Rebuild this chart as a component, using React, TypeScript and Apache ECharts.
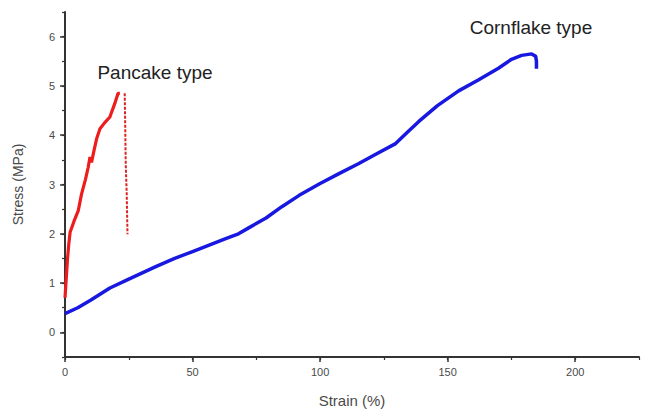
import React, { useEffect, useRef } from "react";
import * as echarts from "echarts";

const cornflake: [number, number][] = [
  [0, 0.38], [5, 0.5], [10, 0.65], [17.6, 0.9], [25, 1.08], [35.8, 1.34], [43, 1.5],
  [50, 1.64], [57, 1.78], [63, 1.9], [68, 2.0], [72, 2.12], [78.8, 2.32], [85, 2.55],
  [91.8, 2.78], [100, 3.02], [107.4, 3.22], [115, 3.42], [122, 3.62], [129.6, 3.83],
  [134, 4.05], [138.7, 4.28], [146, 4.6], [154.3, 4.9], [162, 5.12], [169.9, 5.36],
  [175, 5.54], [179, 5.62], [182.9, 5.65], [184.5, 5.6], [184.8, 5.5], [184.8, 5.35],
];

const pancake: [number, number][] = [
  [0, 0.7], [0.5, 1.1], [1, 1.5], [1.5, 1.8], [2, 2.03], [3.5, 2.25], [5.2, 2.47],
  [6.5, 2.81], [8, 3.1], [9.1, 3.35], [9.8, 3.56], [10.4, 3.45], [11, 3.6], [12.4, 3.93],
  [13.7, 4.13], [15.5, 4.25], [17.6, 4.37], [18.5, 4.5], [19.5, 4.64], [20.8, 4.85], [21.5, 4.85],
];

const pancakeBreak: [number, number][] = [
  [23.4, 4.85], [23.6, 4.2], [23.8, 3.42], [24.2, 2.8], [24.5, 1.99],
];

const xMajorTicks = [0, 50, 100, 150, 200];
const yMajorTicks = [0, 1, 2, 3, 4, 5, 6];

const labels = [
  { text: "Pancake type", x: 155, y: 72 },
  { text: "Cornflake type", x: 531, y: 27 },
];

export default function App() {
  const ref = useRef<HTMLDivElement>(null);
  useEffect(() => {
    if (!ref.current) return;
    const chart = echarts.init(ref.current, null, { renderer: "svg" });
    const axisColor = "#333";
    const labelColor = "#4a4a4a";
    chart.setOption({
      animation: false,
      backgroundColor: "#fff",
      grid: { left: 65, right: 8, top: 12, bottom: 56 },
      xAxis: [
        {
          type: "value",
          min: 0,
          max: 225,
          interval: 50,
          name: "Strain (%)",
          nameLocation: "middle",
          nameGap: 36,
          nameTextStyle: { fontFamily: "Liberation Sans", fontSize: 15, color: labelColor },
          axisLine: { show: true, onZero: false, lineStyle: { color: axisColor, width: 2 } },
          axisTick: { show: true, length: 5, customValues: xMajorTicks, lineStyle: { color: axisColor, width: 1.5 } },
          axisLabel: {
            customValues: xMajorTicks,
            margin: 9,
            fontFamily: "Liberation Sans",
            fontSize: 11,
            color: labelColor,
          },
          splitLine: { show: false },
        },
        {
          type: "value",
          min: 0,
          max: 225,
          interval: 25,
          position: "bottom",
          axisLine: { show: false, onZero: false },
          axisTick: { show: true, length: 3, lineStyle: { color: axisColor, width: 1.2 } },
          axisLabel: { show: false },
          splitLine: { show: false },
        },
      ],
      yAxis: [
        {
          type: "value",
          min: -0.5,
          max: 6.5,
          name: "Stress (MPa)",
          nameLocation: "middle",
          nameGap: 40,
          nameRotate: 90,
          nameTextStyle: { fontFamily: "Liberation Sans", fontSize: 14, color: labelColor },
          axisLine: { show: true, onZero: false, lineStyle: { color: axisColor, width: 2 } },
          axisTick: { show: true, length: 5, customValues: yMajorTicks, lineStyle: { color: axisColor, width: 1.5 } },
          axisLabel: {
            customValues: yMajorTicks,
            margin: 10,
            fontFamily: "Liberation Sans",
            fontSize: 11,
            color: labelColor,
          },
          splitLine: { show: false },
        },
        {
          type: "value",
          min: -0.5,
          max: 6.5,
          interval: 0.5,
          position: "left",
          axisLine: { show: false, onZero: false },
          axisTick: { show: true, length: 3, lineStyle: { color: axisColor, width: 1.2 } },
          axisLabel: { show: false },
          splitLine: { show: false },
        },
      ],
      series: [
        {
          type: "line",
          name: "Cornflake type",
          data: cornflake,
          showSymbol: false,
          lineStyle: { color: "#1818e0", width: 3.5 },
          itemStyle: { color: "#1818e0" },
        },
        {
          type: "line",
          name: "Pancake type",
          data: pancake,
          showSymbol: false,
          lineStyle: { color: "#ee1c1c", width: 3.2 },
          itemStyle: { color: "#ee1c1c" },
        },
        {
          type: "line",
          name: "Pancake type break",
          data: pancakeBreak,
          showSymbol: false,
          lineStyle: { color: "#dd2222", width: 2, type: [3, 1.5] },
          itemStyle: { color: "#dd2222" },
        },
      ],
      graphic: labels.map((l) => ({
        type: "text",
        x: l.x,
        y: l.y,
        style: {
          text: l.text,
          fontFamily: "Liberation Sans",
          fontSize: 19,
          fill: "#222",
          align: "center",
          verticalAlign: "middle",
        },
      })),
    });
    return () => chart.dispose();
  }, []);
  return <div ref={ref} style={{ width: 647, height: 413, position: "absolute", left: 0, top: 0 }} />;
}
